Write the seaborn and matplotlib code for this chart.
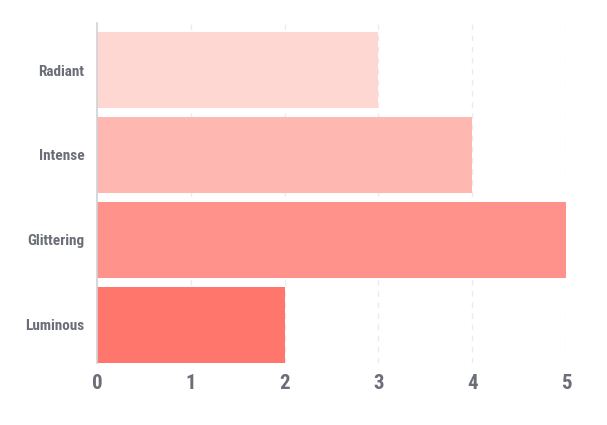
import matplotlib
matplotlib.use("Agg")
import matplotlib.pyplot as plt
import seaborn as sns
import pandas as pd

categories = ["Radiant", "Intense", "Glittering", "Luminous"]
values = [3, 4, 5, 2]
colors = ["#FFD7D2", "#FFB7B1", "#FF928A", "#FF766C"]
xticks = [0, 1, 2, 3, 4, 5]

sns.set_theme(style="white")
plt.rcParams['font.family'] = ['Roboto Condensed', 'DejaVu Sans Condensed', 'Roboto', 'DejaVu Sans']

df = pd.DataFrame({"cat": categories, "val": values})

fig = plt.figure(figsize=(6.07, 4.25), dpi=100)
ax = fig.add_axes([97/607, 62/425, 469/607, 340/425])

sns.barplot(data=df, y="cat", x="val", hue="cat", palette=colors, order=categories,
            hue_order=categories, orient="h", width=76/85, legend=False, ax=ax,
            saturation=1, linewidth=0)
for p in ax.patches:
    p.set_zorder(3)
    p.set_edgecolor("none")

ax.set_xlim(0, 5)
ax.set_ylim(3 + 0.5*76/85, -0.5*76/85 - 9/85)
ax.set_xticks(xticks)
ax.set_xticklabels([str(t) for t in xticks])
ax.set_xlabel("")
ax.set_ylabel("")
ax.xaxis.grid(True, color="#ebebeb", linestyle=(0, (4, 4)), linewidth=1, zorder=0)
ax.set_axisbelow(True)
for s in ["top", "right", "bottom"]:
    ax.spines[s].set_visible(False)
ax.spines["left"].set_color("#d0d2d6")
ax.spines["left"].set_linewidth(1.2)
ax.spines["left"].set_zorder(4)
ax.tick_params(axis="both", length=0)
ax.tick_params(axis="x", pad=8, labelsize=15, labelcolor="#6b6e78")
ax.tick_params(axis="y", pad=9, labelsize=11, labelcolor="#6b6e78")
for lab in ax.get_xticklabels() + ax.get_yticklabels():
    lab.set_fontweight("bold")

fig.savefig("out.png", dpi=100)
